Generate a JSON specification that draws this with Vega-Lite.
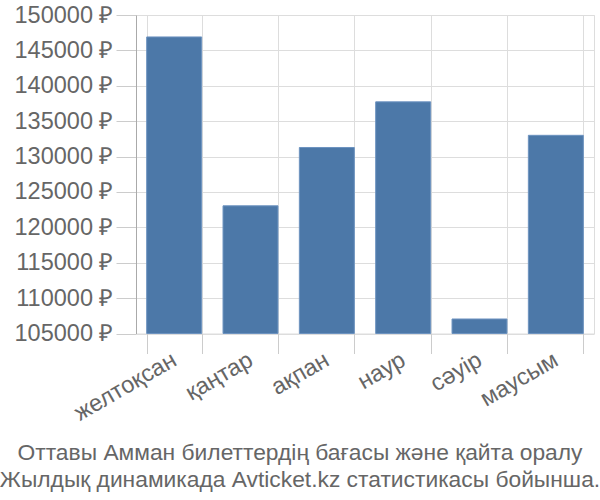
{
  "$schema": "https://vega.github.io/schema/vega-lite/v6.json",
  "autosize": "none",
  "width": 458,
  "height": 318.5,
  "padding": {"left": 136, "top": 15, "right": 6, "bottom": 166},
  "background": "white",
  "title": {
    "text": ["Оттавы Амман билеттердің бағасы және қайта оралу", "Жылдық динамикада Avticket.kz статистикасы бойынша."],
    "orient": "bottom",
    "anchor": "middle",
    "dx": -65,
    "offset": 17,
    "font": "Liberation Sans",
    "fontSize": 22.8,
    "fontWeight": "normal",
    "color": "#666666",
    "lineHeight": 27
  },
  "config": {
    "view": {"stroke": "#dddddd", "strokeWidth": 1},
    "axis": {
      "labelFont": "Liberation Sans",
      "labelColor": "#666666",
      "gridColor": "#dddddd",
      "tickColor": "#cccccc",
      "tickSize": 20,
      "tickWidth": 1,
      "tickOpacity": 1,
      "ticks": true
    }
  },
  "data": {
    "values": [
      {"month": "желтоқсан", "price": 146900},
      {"month": "қаңтар", "price": 123040},
      {"month": "ақпан", "price": 131280},
      {"month": "наур", "price": 137730},
      {"month": "сәуір", "price": 107050},
      {"month": "маусым", "price": 133000}
    ]
  },
  "mark": {"type": "bar", "color": "#4c78a8", "stroke": "#6d93c0", "strokeWidth": 1},
  "encoding": {
    "x": {
      "field": "month",
      "type": "nominal",
      "sort": null,
      "scale": {"paddingInner": 0.28, "paddingOuter": 0.14},
      "axis": {
        "title": null,
        "labelAngle": -30,
        "labelAlign": "right",
        "labelBaseline": "top",
        "labelFontSize": 23.5,
        "labelPadding": -6,
        "labelOffset": -6,
        "tickBand": "extent",
        "grid": true,
        "domain": false,
        "ticks": true,
        "tickSize": 20,
        "tickWidth": 1,
        "tickColor": "#cccccc"
      }
    },
    "y": {
      "field": "price",
      "type": "quantitative",
      "scale": {"domain": [105000, 150000], "zero": false, "nice": false},
      "axis": {
        "title": null,
        "values": [105000, 110000, 115000, 120000, 125000, 130000, 135000, 140000, 145000, 150000],
        "labelExpr": "datum.value + ' ₽'",
        "labelFontSize": 23.5,
        "labelPadding": 3,
        "ticks": true,
        "tickSize": 20,
        "tickWidth": 1,
        "tickColor": "#cccccc",
        "domain": true,
        "domainColor": "#aaaaaa",
        "grid": true
      }
    },
    "y2": {"datum": 105000}
  }
}
